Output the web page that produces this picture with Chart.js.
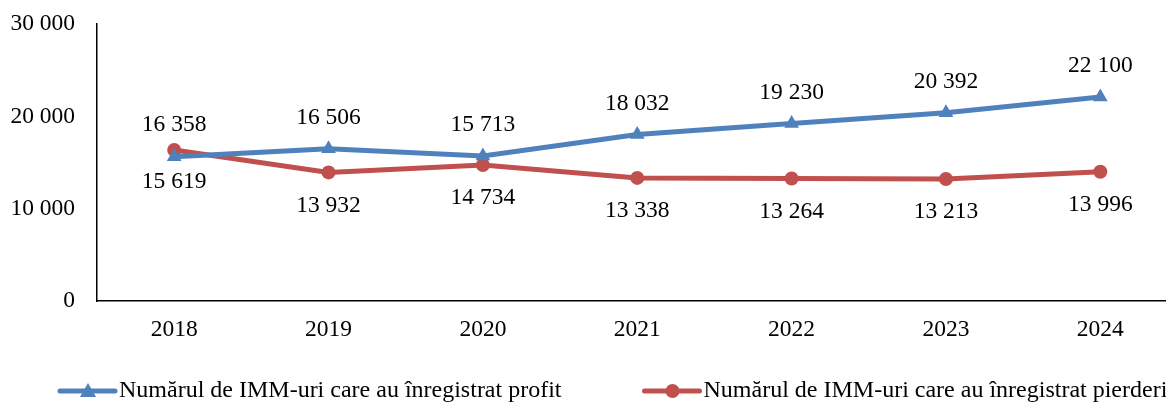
<!DOCTYPE html>
<html>
  <head>
    <script src="https://cdn.jsdelivr.net/npm/chart.js@4.4.1/dist/chart.umd.min.js"></script>
    <style>
      html, body { margin: 0; background: #fff; overflow: hidden; }
      #wrap { width: 1186px; height: 403px; position: relative; }
    </style>
  </head>
  <body>
    <div id="wrap"><canvas id="chart-imm"></canvas></div>
    <script>
      // INPUT DATA

      const years = ["2018", "2019", "2020", "2021", "2022", "2023", "2024"];
      const profitCount = [15619, 16506, 15713, 18032, 19230, 20392, 22100];
      const lossCount = [16358, 13932, 14734, 13338, 13264, 13213, 13996];
      const profitLabel = "Numărul de IMM-uri care au înregistrat profit";
      const lossLabel = "Numărul de IMM-uri care au înregistrat pierderi";

      const FONT = "'Liberation Serif', 'Times New Roman', serif";
      const BLUE = "#4F81BD";
      const RED = "#C0504D";

      function fmt(v) {
        return String(v).replace(/\B(?=(\d{3})+(?!\d))/g, " ");
      }

      // value labels: the higher series above its point, the lower below
      const valueLabels = {
        id: "valueLabels",
        afterDatasetsDraw(chart) {
          const ctx = chart.ctx;
          const sets = chart.data.datasets;
          ctx.save();
          ctx.font = "23.5px " + FONT;
          ctx.fillStyle = "#000";
          ctx.textAlign = "center";
          ctx.textBaseline = "middle";
          sets.forEach(function (ds, di) {
            const meta = chart.getDatasetMeta(di);
            const other = sets[1 - di].data;
            meta.data.forEach(function (pt, i) {
              const up = ds.data[i] >= other[i];
              const close = Math.abs(ds.data[i] - other[i]) < 800;
              let dy = up ? -31 : 33;
              if (close) dy = up ? -25 : 25;
              ctx.fillText(fmt(ds.data[i]), pt.x, pt.y + dy);
            });
          });
          ctx.restore();
        },
      };

      // legend with line + marker, drawn at the bottom
      const lineLegend = {
        id: "lineLegend",
        afterDraw(chart) {
          const ctx = chart.ctx;
          const y = 391;
          let x = 60;
          ctx.save();
          ctx.font = "24px " + FONT;
          ctx.textBaseline = "middle";
          chart.data.datasets.forEach(function (ds) {
            ctx.strokeStyle = ds.borderColor;
            ctx.lineWidth = 5;
            ctx.lineCap = "round";
            ctx.beginPath();
            ctx.moveTo(x, y);
            ctx.lineTo(x + 55, y);
            ctx.stroke();
            ctx.fillStyle = ds.borderColor;
            const cx = x + 28;
            if (ds.pointStyle === "triangle") {
              ctx.beginPath();
              ctx.moveTo(cx, y - 8);
              ctx.lineTo(cx + 8, y + 6);
              ctx.lineTo(cx - 8, y + 6);
              ctx.closePath();
              ctx.fill();
            } else {
              ctx.beginPath();
              ctx.arc(cx, y, 7, 0, Math.PI * 2);
              ctx.fill();
            }
            ctx.fillStyle = "#000";
            ctx.fillText(ds.label, x + 59, y);
            x += 59 + ctx.measureText(ds.label).width + 83;
          });
          ctx.restore();
        },
      };

      const ctx = document.getElementById("chart-imm").getContext("2d");
      const chart = new Chart(ctx, {
        type: "line",
        data: {
          labels: years,
          datasets: [
            {
              label: profitLabel,
              data: profitCount,
              borderColor: BLUE,
              backgroundColor: BLUE,
              borderWidth: 5,
              pointStyle: "triangle",
              pointRadius: 8.5,
              pointBorderWidth: 0,
              tension: 0,
              clip: false,
            },
            {
              label: lossLabel,
              data: lossCount,
              borderColor: RED,
              backgroundColor: RED,
              borderWidth: 5,
              pointStyle: "circle",
              pointRadius: 7,
              pointBorderWidth: 0,
              tension: 0,
              clip: false,
            },
          ],
        },
        options: {
          responsive: true,
          maintainAspectRatio: false,
          animation: false,
          layout: { padding: { top: 10, right: 0, bottom: 57, left: 0 } },
          plugins: {
            legend: { display: false },
            tooltip: { enabled: false },
          },
          scales: {
            x: {
              offset: true,
              grid: { display: false, drawTicks: false },
              border: { display: true, color: "#000", width: 1.5 },
              ticks: {
                color: "#000",
                font: { family: FONT, size: 23.5 },
                padding: 15,
                maxRotation: 0,
              },
              afterFit(scale) { scale.height = 45; },
            },
            y: {
              min: 0,
              max: 30000,
              grid: {
                display: true,
                drawOnChartArea: false,
                drawTicks: true,
                tickLength: 12,
                tickColor: "rgba(0,0,0,0)",
              },
              border: { display: true, color: "#000", width: 1.5 },
              ticks: {
                stepSize: 10000,
                color: "#000",
                font: { family: FONT, size: 23.5 },
                padding: 10,
                callback: function (v) { return fmt(v); },
              },
              afterFit(scale) { scale.width = 97; },
            },
          },
        },
        plugins: [valueLabels, lineLegend],
      });
    </script>
  </body>
</html>
